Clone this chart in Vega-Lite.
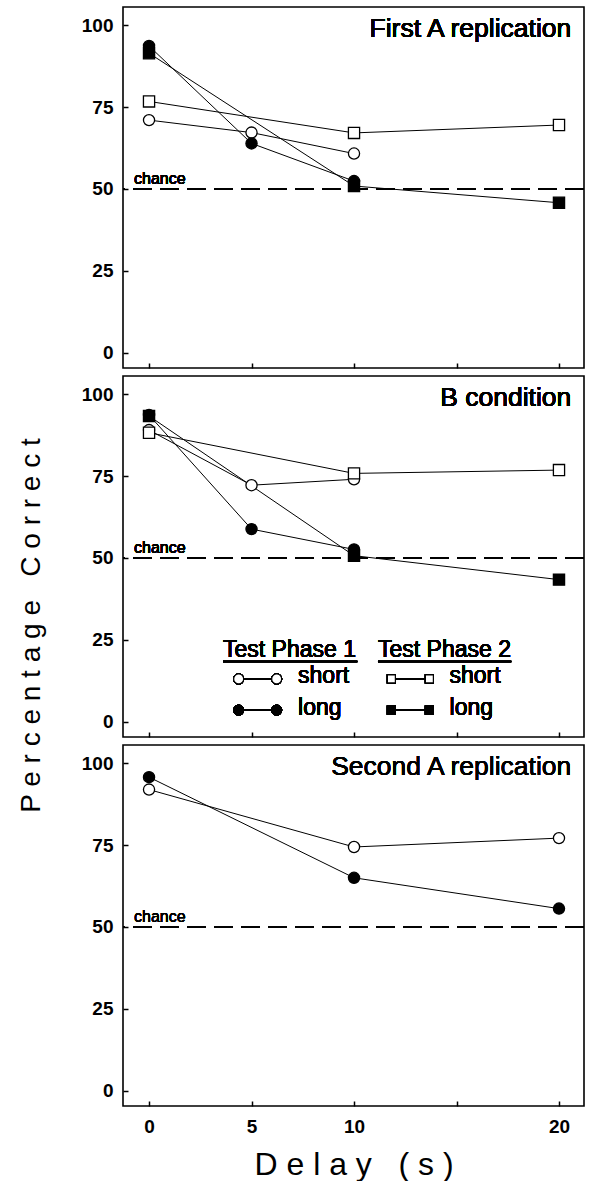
{
  "$schema": "https://vega.github.io/schema/vega-lite/v6.json",
  "padding": {"left": 16, "top": 6, "right": 0, "bottom": 0},
  "background": "white",
  "spacing": 8,
  "bounds": "flush",
  "config": {
    "font": "Liberation Sans",
    "view": {"stroke": "black", "strokeWidth": 1.6},
    "axis": {
      "domain": false, "grid": false, "tickColor": "black", "tickSize": -5, "tickWidth": 1.5,
      "labelFont": "Liberation Sans", "labelFontWeight": "bold", "labelFontSize": 19, "labelColor": "black",
      "titleColor": "black", "titleFont": "Liberation Sans", "titleFontWeight": "normal"
    },
    "text": {"font": "Liberation Sans", "color": "black"}
  },
  "datasets": {
    "results": [
      {"panel": "A1", "series": "TP1 short", "delay": 0, "pct": 71.0},
      {"panel": "A1", "series": "TP1 short", "delay": 5, "pct": 67.2},
      {"panel": "A1", "series": "TP1 short", "delay": 10, "pct": 60.8},
      {"panel": "A1", "series": "TP2 short", "delay": 0, "pct": 76.7},
      {"panel": "A1", "series": "TP2 short", "delay": 10, "pct": 67.1},
      {"panel": "A1", "series": "TP2 short", "delay": 20, "pct": 69.5},
      {"panel": "A1", "series": "TP2 long", "delay": 0, "pct": 91.4},
      {"panel": "A1", "series": "TP2 long", "delay": 10, "pct": 50.9},
      {"panel": "A1", "series": "TP2 long", "delay": 20, "pct": 45.8},
      {"panel": "A1", "series": "TP1 long", "delay": 0, "pct": 93.6},
      {"panel": "A1", "series": "TP1 long", "delay": 5, "pct": 63.9},
      {"panel": "A1", "series": "TP1 long", "delay": 10, "pct": 52.4},
      {"panel": "B", "series": "TP1 short", "delay": 0, "pct": 89.0},
      {"panel": "B", "series": "TP1 short", "delay": 5, "pct": 72.2},
      {"panel": "B", "series": "TP1 short", "delay": 10, "pct": 74.0},
      {"panel": "B", "series": "TP2 short", "delay": 0, "pct": 88.2},
      {"panel": "B", "series": "TP2 short", "delay": 10, "pct": 75.8},
      {"panel": "B", "series": "TP2 short", "delay": 20, "pct": 76.8},
      {"panel": "B", "series": "TP2 long", "delay": 0, "pct": 93.3},
      {"panel": "B", "series": "TP2 long", "delay": 10, "pct": 50.7},
      {"panel": "B", "series": "TP2 long", "delay": 20, "pct": 43.4},
      {"panel": "B", "series": "TP1 long", "delay": 0, "pct": 93.6},
      {"panel": "B", "series": "TP1 long", "delay": 5, "pct": 58.8},
      {"panel": "B", "series": "TP1 long", "delay": 10, "pct": 52.6},
      {"panel": "A2", "series": "TP1 short", "delay": 0, "pct": 91.9},
      {"panel": "A2", "series": "TP1 short", "delay": 10, "pct": 74.4},
      {"panel": "A2", "series": "TP1 short", "delay": 20, "pct": 77.1},
      {"panel": "A2", "series": "TP1 long", "delay": 0, "pct": 95.7},
      {"panel": "A2", "series": "TP1 long", "delay": 10, "pct": 65.0},
      {"panel": "A2", "series": "TP1 long", "delay": 20, "pct": 55.6}
    ]
  },
  "vconcat": [
    {
      "width": 461, "height": 361,
      "data": {"name": "results"},
      "transform": [{"filter": "datum.panel == 'A1'"}],
      "encoding": {
        "x": {"field": "delay", "type": "quantitative", "scale": {"domain": [-1.27, 21.22], "nice": false, "zero": false},
              "axis": {"values": [0, 5, 10, 15, 20], "labels": false, "title": null}},
        "y": {"field": "pct", "type": "quantitative", "scale": {"domain": [-4.6, 105.5], "nice": false, "zero": false},
              "axis": {"values": [0, 25, 50, 75, 100], "title": null, "labelPadding": 15}}
      },
      "layer": [
        {"mark": {"type": "rule", "strokeDash": [19, 8], "color": "black", "strokeWidth": 1.2}, "encoding": {"x": null, "y": {"datum": 50}}},
        {"mark": {"type": "text", "text": "chance", "fontSize": 16, "align": "left", "baseline": "alphabetic"}, "encoding": {"x": {"datum": -0.73}, "y": {"datum": 51.5}}},
        {"mark": {"type": "text", "text": "First A replication", "fontSize": 26.5, "align": "right", "baseline": "alphabetic"}, "encoding": {"x": {"datum": 20.6}, "y": {"datum": 96.4}}},
        {"mark": {"type": "line", "color": "black", "strokeWidth": 1}, "encoding": {"detail": {"field": "series"}}},
        {"mark": {"type": "point", "size": 125, "stroke": "black", "strokeWidth": 1.3, "opacity": 1},
         "encoding": {
           "shape": {"field": "series", "scale": {"domain": ["TP1 short", "TP1 long", "TP2 short", "TP2 long"], "range": ["circle", "circle", "square", "square"]}, "legend": null},
           "fill": {"field": "series", "scale": {"domain": ["TP1 short", "TP1 long", "TP2 short", "TP2 long"], "range": ["white", "black", "white", "black"]}, "legend": null}
         }}
      ]
    },
    {
      "width": 461, "height": 361,
      "data": {"name": "results"},
      "transform": [{"filter": "datum.panel == 'B'"}],
      "encoding": {
        "x": {"field": "delay", "type": "quantitative", "scale": {"domain": [-1.27, 21.22], "nice": false, "zero": false},
              "axis": {"values": [0, 5, 10, 15, 20], "labels": false, "title": null}},
        "y": {"field": "pct", "type": "quantitative", "scale": {"domain": [-4.6, 105.5], "nice": false, "zero": false},
              "axis": {"values": [0, 25, 50, 75, 100], "labelPadding": 15,
                       "title": "P e r c e n t a g e \u00a0\u00a0C o r r e c t", "titleFontSize": 28,
                       "titleX": -92, "titleY": 249, "titleAngle": -90, "titleAlign": "center", "titleBaseline": "middle"}}
      },
      "layer": [
        {"mark": {"type": "rule", "strokeDash": [19, 8], "color": "black", "strokeWidth": 1.2}, "encoding": {"x": null, "y": {"datum": 50}}},
        {"mark": {"type": "text", "text": "chance", "fontSize": 16, "align": "left", "baseline": "alphabetic"}, "encoding": {"x": {"datum": -0.73}, "y": {"datum": 51.5}}},
        {"mark": {"type": "text", "text": "B condition", "fontSize": 26.5, "align": "right", "baseline": "alphabetic"}, "encoding": {"x": {"datum": 20.6}, "y": {"datum": 96.4}}},
        {"mark": {"type": "text", "text": "Test Phase 1", "fontSize": 23, "align": "left", "baseline": "alphabetic"}, "encoding": {"x": {"datum": 3.61}, "y": {"datum": 19.9}}},
        {"mark": {"type": "text", "text": "Test Phase 2", "fontSize": 23, "align": "left", "baseline": "alphabetic"}, "encoding": {"x": {"datum": 11.17}, "y": {"datum": 19.9}}},
        {"mark": {"type": "rule", "color": "black", "strokeWidth": 1.5}, "encoding": {"x": {"datum": 3.61}, "x2": {"datum": 10.16}, "y": {"datum": 18.4}}},
        {"mark": {"type": "rule", "color": "black", "strokeWidth": 1.5}, "encoding": {"x": {"datum": 11.17}, "x2": {"datum": 17.67}, "y": {"datum": 18.4}}},
        {"mark": {"type": "point", "size": 1444, "strokeWidth": 1.2, "stroke": "black", "fill": "white", "opacity": 1,
                  "shape": "M -1.263 0 A 0.263 0.263 0 1 1 -0.737 0 A 0.263 0.263 0 1 1 -1.263 0 Z M -0.737 0 L 0.737 0 M 0.737 0 A 0.263 0.263 0 1 1 1.263 0 A 0.263 0.263 0 1 1 0.737 0 Z"},
         "encoding": {"x": {"datum": 5.3}, "y": {"datum": 13.1}}},
        {"mark": {"type": "point", "size": 1444, "strokeWidth": 1.2, "stroke": "black", "fill": "black", "opacity": 1,
                  "shape": "M -1.263 0 A 0.263 0.263 0 1 1 -0.737 0 A 0.263 0.263 0 1 1 -1.263 0 Z M -0.737 0 L 0.737 0 M 0.737 0 A 0.263 0.263 0 1 1 1.263 0 A 0.263 0.263 0 1 1 0.737 0 Z"},
         "encoding": {"x": {"datum": 5.3}, "y": {"datum": 3.6}}},
        {"mark": {"type": "point", "size": 1444, "strokeWidth": 1.2, "stroke": "black", "fill": "white", "opacity": 1,
                  "shape": "M -1.21 -0.21 L -0.79 -0.21 L -0.79 0.21 L -1.21 0.21 Z M -0.79 0 L 0.79 0 M 0.79 -0.21 L 1.21 -0.21 L 1.21 0.21 L 0.79 0.21 Z"},
         "encoding": {"x": {"datum": 12.75}, "y": {"datum": 13.1}}},
        {"mark": {"type": "point", "size": 1444, "strokeWidth": 1.2, "stroke": "black", "fill": "black", "opacity": 1,
                  "shape": "M -1.21 -0.21 L -0.79 -0.21 L -0.79 0.21 L -1.21 0.21 Z M -0.79 0 L 0.79 0 M 0.79 -0.21 L 1.21 -0.21 L 1.21 0.21 L 0.79 0.21 Z"},
         "encoding": {"x": {"datum": 12.75}, "y": {"datum": 3.6}}},
        {"mark": {"type": "text", "text": "short", "fontSize": 23, "align": "left", "baseline": "alphabetic"}, "encoding": {"x": {"datum": 7.27}, "y": {"datum": 11.8}}},
        {"mark": {"type": "text", "text": "long", "fontSize": 23, "align": "left", "baseline": "alphabetic"}, "encoding": {"x": {"datum": 7.27}, "y": {"datum": 2.0}}},
        {"mark": {"type": "text", "text": "short", "fontSize": 23, "align": "left", "baseline": "alphabetic"}, "encoding": {"x": {"datum": 14.66}, "y": {"datum": 11.8}}},
        {"mark": {"type": "text", "text": "long", "fontSize": 23, "align": "left", "baseline": "alphabetic"}, "encoding": {"x": {"datum": 14.66}, "y": {"datum": 2.0}}},
        {"mark": {"type": "line", "color": "black", "strokeWidth": 1}, "encoding": {"detail": {"field": "series"}}},
        {"mark": {"type": "point", "size": 125, "stroke": "black", "strokeWidth": 1.3, "opacity": 1},
         "encoding": {
           "shape": {"field": "series", "scale": {"domain": ["TP1 short", "TP1 long", "TP2 short", "TP2 long"], "range": ["circle", "circle", "square", "square"]}, "legend": null},
           "fill": {"field": "series", "scale": {"domain": ["TP1 short", "TP1 long", "TP2 short", "TP2 long"], "range": ["white", "black", "white", "black"]}, "legend": null}
         }}
      ]
    },
    {
      "width": 461, "height": 361,
      "data": {"name": "results"},
      "transform": [{"filter": "datum.panel == 'A2'"}],
      "encoding": {
        "x": {"field": "delay", "type": "quantitative", "scale": {"domain": [-1.27, 21.22], "nice": false, "zero": false},
              "axis": {"values": [0, 5, 10, 15, 20], "labelExpr": "datum.value == 15 ? '' : datum.label", "labelPadding": 16,
                       "title": "D e l a y \u00a0\u00a0( s )", "titleFontSize": 32, "titlePadding": 13}},
        "y": {"field": "pct", "type": "quantitative", "scale": {"domain": [-4.6, 105.5], "nice": false, "zero": false},
              "axis": {"values": [0, 25, 50, 75, 100], "title": null, "labelPadding": 15}}
      },
      "layer": [
        {"mark": {"type": "rule", "strokeDash": [19, 8], "color": "black", "strokeWidth": 1.2}, "encoding": {"x": null, "y": {"datum": 50}}},
        {"mark": {"type": "text", "text": "chance", "fontSize": 16, "align": "left", "baseline": "alphabetic"}, "encoding": {"x": {"datum": -0.73}, "y": {"datum": 51.5}}},
        {"mark": {"type": "text", "text": "Second A replication", "fontSize": 26.5, "align": "right", "baseline": "alphabetic"}, "encoding": {"x": {"datum": 20.6}, "y": {"datum": 96.4}}},
        {"mark": {"type": "line", "color": "black", "strokeWidth": 1}, "encoding": {"detail": {"field": "series"}}},
        {"mark": {"type": "point", "size": 125, "stroke": "black", "strokeWidth": 1.3, "opacity": 1},
         "encoding": {
           "shape": {"field": "series", "scale": {"domain": ["TP1 short", "TP1 long", "TP2 short", "TP2 long"], "range": ["circle", "circle", "square", "square"]}, "legend": null},
           "fill": {"field": "series", "scale": {"domain": ["TP1 short", "TP1 long", "TP2 short", "TP2 long"], "range": ["white", "black", "white", "black"]}, "legend": null}
         }}
      ]
    }
  ]
}
